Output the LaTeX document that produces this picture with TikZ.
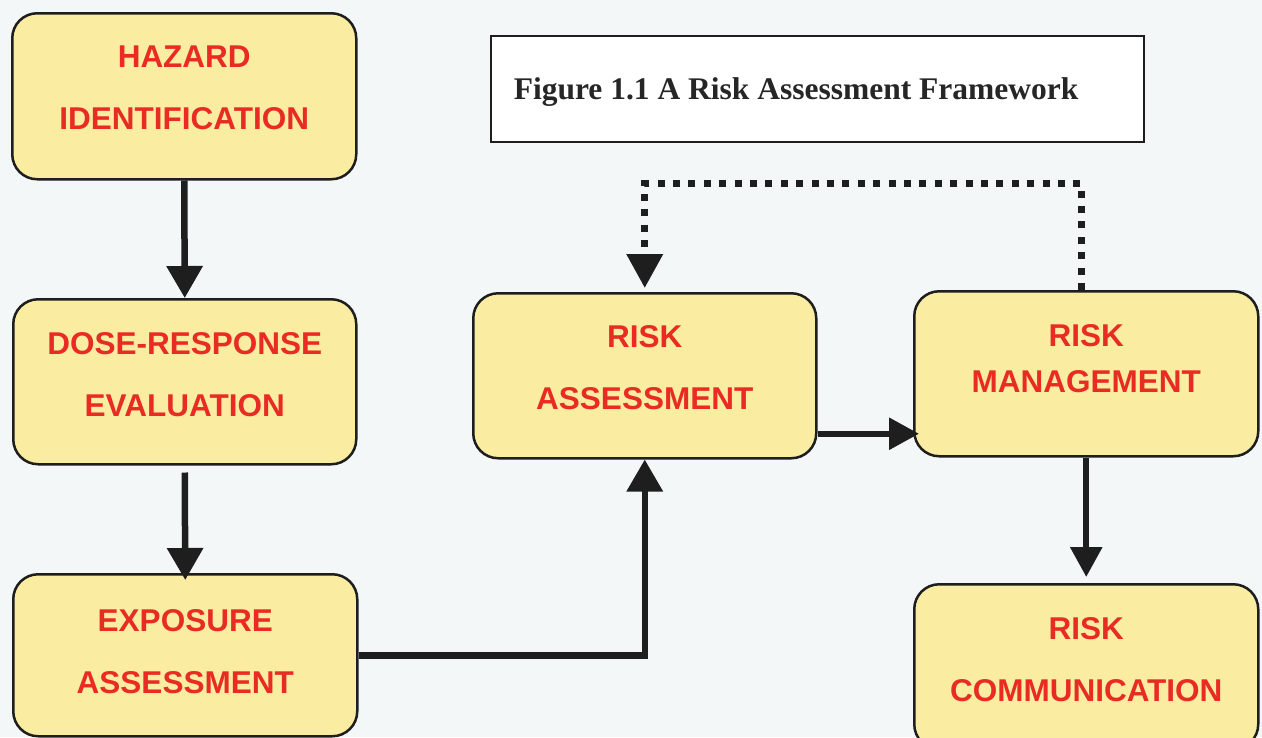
\documentclass[tikz,border=0pt]{standalone}
\usepackage{fontspec}
\setmainfont{Liberation Serif}
\setsansfont{Liberation Sans}
\usetikzlibrary{arrows.meta}
\definecolor{bgc}{RGB}{244,247,248}
\definecolor{boxfill}{RGB}{250,237,162}
\definecolor{redtxt}{RGB}{232,44,36}
\definecolor{edge}{RGB}{30,30,30}
\newcommand{\titlespacing}{\spaceskip=0.25em\relax}
\tikzset{
  stagebox/.style={draw=edge, line width=2.5pt, fill=boxfill, rectangle,
    rounded corners=25pt, anchor=north west, inner sep=0pt},
  lbl/.style={text=redtxt, align=center, inner sep=0pt,
    font=\sffamily\bfseries\fontsize{31.5}{62}\selectfont},
  lblm/.style={lbl, font=\sffamily\bfseries\fontsize{31.5}{46}\selectfont},
  arr/.style={draw=edge, line width=6.5pt, -{Triangle[length=32pt,width=35pt]}},
  arrs/.style={draw=edge, line width=6pt, -{Triangle[length=30pt,width=31pt]}},
  dotline/.style={draw=edge, line width=7pt, dash pattern=on 7pt off 8.4pt,
    -{Triangle[length=34pt,width=35pt]}},
  titlebox/.style={draw=edge, line width=1.6pt, fill=white, anchor=north west,
    minimum width=653pt, minimum height=106pt, text width=607pt, inner xsep=23pt,
    align=left, font=\rmfamily\bfseries\fontsize{31.5}{38}\selectfont, text=black!85}
}
\begin{document}
\begin{tikzpicture}[x=1pt,y=-1pt]
\useasboundingbox (0,0) rectangle (1262,737);
\clip (0,0) rectangle (1262,737);
\fill[bgc] (0,0) rectangle (1262,737);

\node[titlebox, text height=26pt, text depth=4pt] (title) at (490,35) {\titlespacing Figure 1.1 A Risk Assessment Framework};

\node[stagebox, minimum width=344pt, minimum height=166pt,
  label={[lbl,yshift=8pt]center:HAZARD\\IDENTIFICATION}] (hz) at (11,12) {};
\node[stagebox, minimum width=343pt, minimum height=165pt,
  label={[lbl,yshift=7pt]center:DOSE-RESPONSE\\EVALUATION}] (dr) at (12,298) {};
\node[stagebox, minimum width=344pt, minimum height=162pt,
  label={[lbl,yshift=4pt]center:EXPOSURE\\ASSESSMENT}] (ex) at (12,573) {};
\node[stagebox, minimum width=343pt, minimum height=165pt,
  label={[lbl,yshift=8pt]center:RISK\\ASSESSMENT}] (ra) at (472,292) {};
\node[stagebox, minimum width=344pt, minimum height=165pt,
  label={[lblm,yshift=15pt]center:RISK\\MANAGEMENT}] (rm) at (913,290) {};
\node[stagebox, minimum width=344pt, minimum height=165pt,
  label={[lbl,yshift=7pt]center:RISK\\COMMUNICATION}] (rc) at (913,583) {};

\coordinate (fbtop) at (0,183);

\draw[arr] (hz.south) -- (dr.north);
\draw[arr] ([yshift=-7pt]dr.south) -- ([yshift=-7pt]ex.north);
\draw[arr] (ex.east) -| (ra.south);
\draw[arrs] ([yshift=-58pt]ra.east) -- ([yshift=-58pt,xshift=6pt]ra.east -| rm.west);
\draw[arrs] (rm.south) -- ([yshift=6pt]rc.north);
\draw[dotline] ([xshift=-5pt]rm.north) -- ([xshift=-5pt]rm.north |- fbtop) -| ([yshift=4pt]ra.north);
\end{tikzpicture}
\end{document}
